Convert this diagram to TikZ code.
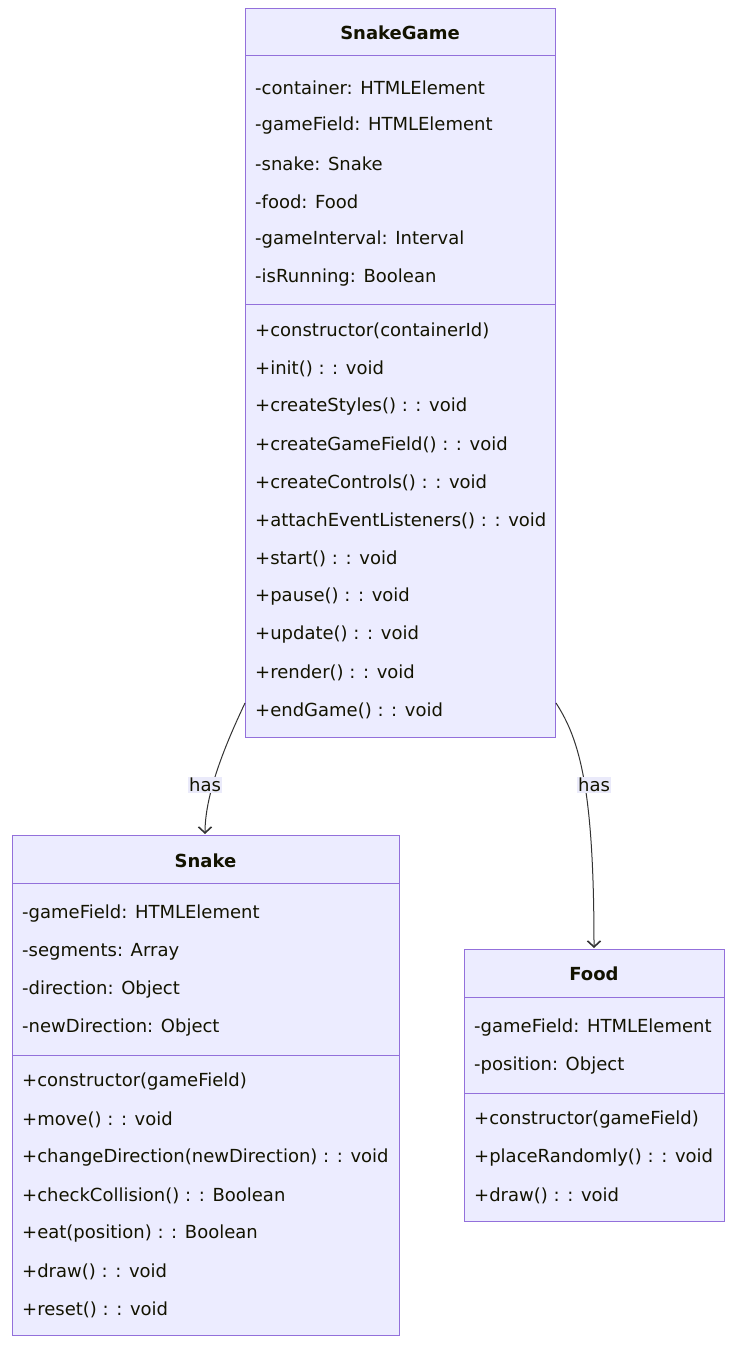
\documentclass[tikz,border=0pt]{standalone}
\usepackage{fontspec}
\setmainfont{DejaVu Sans}
\usetikzlibrary{arrows.meta}
\definecolor{boxfill}{HTML}{ECECFF}
\definecolor{boxline}{HTML}{9370DB}
\definecolor{txt}{HTML}{131300}
\definecolor{edgecol}{HTML}{333333}
\definecolor{lblfill}{HTML}{EAEAFA}
\tikzset{
  classbox/.style={draw=boxline, fill=boxfill, line width=1pt, anchor=north west, inner sep=0pt},
  divider/.style={draw=boxline, line width=1pt},
  title/.style={font=\fontsize{18}{20}\selectfont\bfseries, text=txt, inner sep=0pt},
  member/.style={font=\fontsize{18}{20}\selectfont, text=txt, anchor=west, inner sep=0pt},
  rel/.style={draw=edgecol, line width=1pt, -{Straight Barb[length=6pt,width=13pt,line width=1.6pt]}},
  rellabel/.style={font=\fontsize{18}{20}\selectfont, text=txt, fill=lblfill, inner sep=1.5pt}
}
\begin{document}
\begin{tikzpicture}[x=1pt,y=-1pt]
\useasboundingbox (0,0) rectangle (734,1346);

% SnakeGame class
\node[classbox, minimum width=310pt, minimum height=729pt] (sg) at (245,8) {};
\draw[divider] (245,56) -- (555,56);
\draw[divider] (245,304) -- (555,304);
\node[title] (sgt) at (400,33) {SnakeGame};
\node[member] (sga1) at (255,88) {-container: HTMLElement};
\node[member] (sga2) at (255,126) {-gameField: HTMLElement};
\node[member] (sga3) at (255,164) {-snake: Snake};
\node[member] (sga4) at (255,202) {-food: Food};
\node[member] (sga5) at (255,240) {-gameInterval: Interval};
\node[member] (sga6) at (255,278) {-isRunning: Boolean};
\node[member] (sgm1) at (255,331) {+constructor(containerId)};
\node[member] (sgm2) at (255,369) {+init() : : void};
\node[member] (sgm3) at (255,407) {+createStyles() : : void};
\node[member] (sgm4) at (255,445) {+createGameField() : : void};
\node[member] (sgm5) at (255,483) {+createControls() : : void};
\node[member] (sgm6) at (255,521) {+attachEventListeners() : : void};
\node[member] (sgm7) at (255,559) {+start() : : void};
\node[member] (sgm8) at (255,597) {+pause() : : void};
\node[member] (sgm9) at (255,635) {+update() : : void};
\node[member] (sgm10) at (255,673) {+render() : : void};
\node[member] (sgm11) at (255,711) {+endGame() : : void};

% Snake class
\node[classbox, minimum width=387pt, minimum height=500pt] (sn) at (12,835) {};
\draw[divider] (12,883) -- (399,883);
\draw[divider] (12,1055) -- (399,1055);
\node[title] (snt) at (205.5,861) {Snake};
\node[member] (sna1) at (22,914) {-gameField: HTMLElement};
\node[member] (sna2) at (22,952) {-segments: Array};
\node[member] (sna3) at (22,990) {-direction: Object};
\node[member] (sna4) at (22,1028) {-newDirection: Object};
\node[member] (snm1) at (22,1082) {+constructor(gameField)};
\node[member] (snm2) at (22,1120) {+move() : : void};
\node[member] (snm3) at (22,1158) {+changeDirection(newDirection) : : void};
\node[member] (snm4) at (22,1196) {+checkCollision() : : Boolean};
\node[member] (snm5) at (22,1234) {+eat(position) : : Boolean};
\node[member] (snm6) at (22,1272) {+draw() : : void};
\node[member] (snm7) at (22,1310) {+reset() : : void};

% Food class
\node[classbox, minimum width=260pt, minimum height=272pt] (fd) at (464,949) {};
\draw[divider] (464,997) -- (724,997);
\draw[divider] (464,1093) -- (724,1093);
\node[title] (fdt) at (594,974) {Food};
\node[member] (fda1) at (474,1028) {-gameField: HTMLElement};
\node[member] (fda2) at (474,1066) {-position: Object};
\node[member] (fdm1) at (474,1120) {+constructor(gameField)};
\node[member] (fdm2) at (474,1158) {+placeRandomly() : : void};
\node[member] (fdm3) at (474,1196) {+draw() : : void};

% associations
\coordinate (sgl) at (sg.west |- 0,703);
\coordinate (sgr) at (sg.east |- 0,703);
\coordinate (snin) at (205,834);
\coordinate (fdin) at (594,948);
\draw[rel] (sgl) .. controls (230,735) and (205,790) .. (snin);
\draw[rel] (sgr) .. controls (580,740) and (594,790) .. (fdin);
\node[rellabel] (l1) at (205,785) {has};
\node[rellabel] (l2) at (594,785) {has};
\end{tikzpicture}
\end{document}
